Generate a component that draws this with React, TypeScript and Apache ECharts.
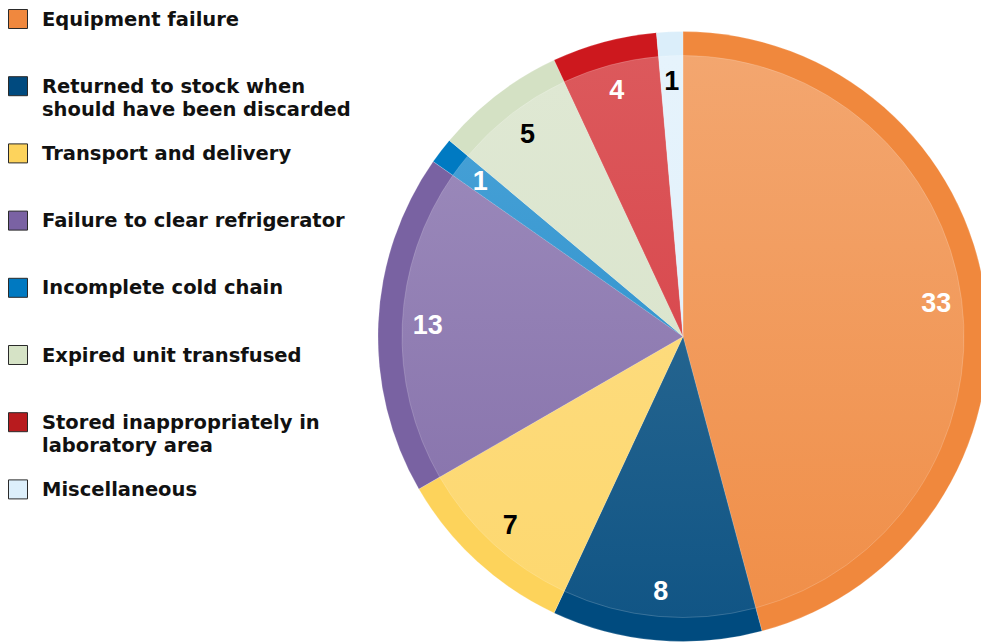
import React, { useEffect, useRef } from "react";
import * as echarts from "echarts";

const categories = [
  "Equipment failure",
  "Returned to stock when\nshould have been discarded",
  "Transport and delivery",
  "Failure to clear refrigerator",
  "Incomplete cold chain",
  "Expired unit transfused",
  "Stored inappropriately in\nlaboratory area",
  "Miscellaneous",
];
const values = [33, 8, 7, 13, 1, 5, 4, 1];
const outerColors = ["#F0883D", "#004B7F", "#FDD35B", "#7962A2", "#007AC2", "#D4E1C4", "#CD181E", "#DBEEFA"];
const innerTop = ["#F3A66F", "#24648F", "#FDDB7C", "#9987B9", "#449FD5", "#DFE8D3", "#DC595C", "#E6F3FC"];
const innerBottom = ["#F08F49", "#115585", "#FDD870", "#8A76AE", "#3797D0", "#DBE5CE", "#D94A4F", "#E2F1FB"];
const legendColors = ["#F0883E", "#004A7F", "#FDD35C", "#7A62A3", "#0079C1", "#D6E3C6", "#B81B1E", "#DDEFFB"];
const labelColors = ["#FFFFFF", "#FFFFFF", "#000000", "#FFFFFF", "#FFFFFF", "#000000", "#FFFFFF", "#000000"];

export default function App() {
  const ref = useRef<HTMLDivElement>(null);
  useEffect(() => {
    if (!ref.current) return;
    const chart = echarts.init(ref.current, undefined, { renderer: "svg" });
    const center = [683, 336.5];
    const R = 305;
    const Rin = 281;
    const names = categories.map((c) => c.replace("\n", " "));

    const legendGraphics: any[] = [];
    categories.forEach((c, i) => {
      const cy = 19 + i * 67.2;
      legendGraphics.push({
        type: "rect",
        shape: { x: 8.5, y: cy - 9.5, width: 19, height: 19 },
        style: { fill: legendColors[i], stroke: "#2a2a2a", lineWidth: 1 },
        silent: true,
      });
      legendGraphics.push({
        type: "text",
        x: 42,
        y: cy - 11.5,
        style: {
          text: c,
          fill: "#111111",
          font: "bold 19.5px 'DejaVu Sans'",
          lineHeight: 23,
          verticalAlign: "top",
          align: "left",
        },
        silent: true,
      });
    });

    chart.setOption({
      animation: false,
      graphic: legendGraphics,
      series: [
        {
          type: "pie",
          center,
          radius: [0, R],
          startAngle: 90,
          clockwise: true,
          silent: true,
          label: { show: false },
          labelLine: { show: false },
          emphasis: { disabled: true },
          itemStyle: { borderWidth: 0.5, borderColor: "rgba(255,255,255,0.35)" },
          data: values.map((v, i) => ({
            name: names[i],
            value: v,
            itemStyle: { color: outerColors[i] },
          })),
          z: 1,
        },
        {
          type: "pie",
          center,
          radius: [0, Rin],
          startAngle: 90,
          clockwise: true,
          silent: true,
          label: { show: false },
          labelLine: { show: false },
          emphasis: { disabled: true },
          itemStyle: { borderWidth: 0.5, borderColor: "rgba(255,255,255,0.35)" },
          data: values.map((v, i) => ({
            name: names[i],
            value: v,
            itemStyle: {
              color: new echarts.graphic.LinearGradient(0, 0, 0, 1, [
                { offset: 0, color: innerTop[i] },
                { offset: 1, color: innerBottom[i] },
              ]),
            },
          })),
          z: 2,
        },
        {
          type: "pie",
          center,
          radius: [200, R],
          startAngle: 90,
          clockwise: true,
          silent: true,
          labelLine: { show: false },
          emphasis: { disabled: true },
          label: {
            show: true,
            position: "inside",
            formatter: "{c}",
            fontFamily: "'Liberation Sans', Arial, sans-serif",
            fontWeight: "bold",
            fontSize: 27,
          },
          data: values.map((v, i) => ({
            name: names[i],
            value: v,
            itemStyle: { color: "rgba(0,0,0,0)" },
            label: { color: labelColors[i] },
          })),
          z: 3,
        },
      ],
    });
    return () => chart.dispose();
  }, []);
  return (
    <div
      ref={ref}
      style={{ position: "absolute", left: 0, top: 0, width: 981, height: 642, background: "#ffffff" }}
    />
  );
}
